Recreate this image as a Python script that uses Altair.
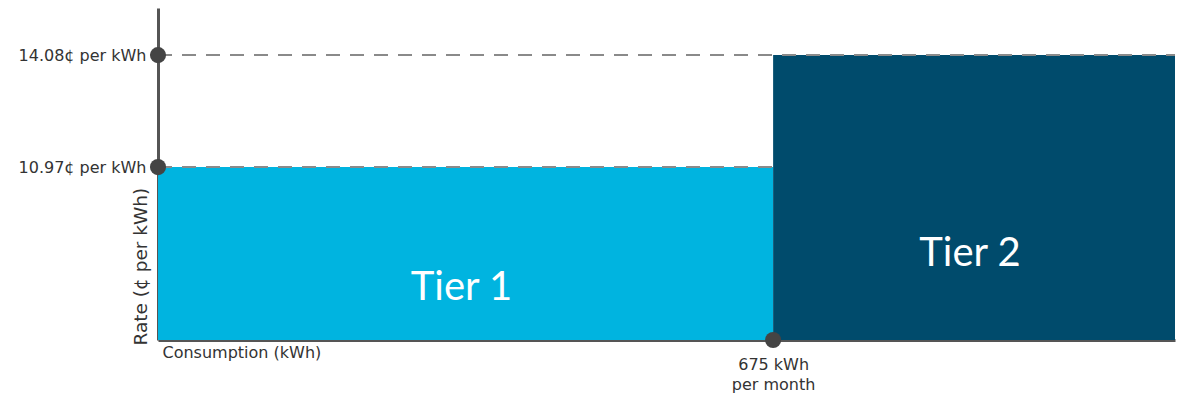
import altair as alt
import pandas as pd

# ---- data ----
tiers = ["Tier 1", "Tier 2"]
tier_start = [0, 675]
tier_end = [675, 1116]
rates = [10.97, 14.08]
threshold = [675]
x_max = 1116
y_max = 15.2

FONT = "DejaVu Sans"
BIG_FONT = "Lato"
TEXT = "#333333"
AXIS = "#555555"
colors = ["#00B4E0", "#004B6C"]

df = pd.DataFrame({
    "tier": tiers,
    "start": tier_start,
    "end": tier_end,
    "rate": rates,
    "zero": [0, 0],
})
df["label_y"] = df["rate"] * 0.55
df["label_x"] = (df["start"] + df["end"]) / 2
df["x0"] = 0

dots = pd.DataFrame({
    "x": [0, 0] + threshold,
    "y": rates + [0],
})

xs = alt.Scale(domain=[0, x_max], nice=False, zero=False)
ys = alt.Scale(type="pow", exponent=2, domain=[0, y_max], nice=False)

base = alt.Chart(df)

bars = base.mark_rect().encode(
    x=alt.X("start:Q", scale=xs,
            axis=alt.Axis(values=threshold, ticks=False, grid=False,
                          domainColor=AXIS, domainWidth=3,
                          labelExpr="['675 kWh', 'per month']",
                          labelFont=FONT, labelFontSize=16, labelColor=TEXT,
                          labelPadding=16, labelLineHeight=20,
                          title="Consumption (kWh)", titleFont=FONT,
                          titleFontSize=16, titleFontWeight="normal",
                          titleColor=TEXT, titleAnchor="start",
                          titleAlign="left", titleX=4, titleY=4,
                          titleBaseline="top")),
    x2="end:Q",
    y=alt.Y("zero:Q", scale=ys,
            axis=alt.Axis(values=rates, ticks=False, grid=False,
                          domainColor=AXIS, domainWidth=3,
                          labelExpr="format(datum.value, '.2f') + '¢ per kWh'",
                          labelFont=FONT, labelFontSize=16, labelColor=TEXT,
                          labelPadding=12,
                          title="Rate (¢ per kWh)", titleFont=FONT,
                          titleFontSize=18.5, titleFontWeight="normal",
                          titleColor=TEXT, titleAnchor="start",
                          titleX=-8, titleY=337, titleBaseline="bottom")),
    y2="rate:Q",
    color=alt.Color("tier:N", scale=alt.Scale(domain=tiers, range=colors),
                    legend=None),
)

rules = base.mark_rule(color="#8a8a8a", strokeWidth=2,
                       strokeDash=[14, 10]).encode(
    x=alt.X("x0:Q", scale=xs),
    x2="end:Q",
    y=alt.Y("rate:Q", scale=ys),
)

labels = base.mark_text(font=BIG_FONT, fontSize=40, color="white",
                        align="center", baseline="middle", dx=-4).encode(
    x=alt.X("label_x:Q", scale=xs),
    y=alt.Y("label_y:Q", scale=ys),
    text="tier:N",
)

points = alt.Chart(dots).mark_point(filled=True, size=260, opacity=1,
                                    color="#444444").encode(
    x=alt.X("x:Q", scale=xs),
    y=alt.Y("y:Q", scale=ys),
)

chart = alt.layer(bars, rules, labels, points).properties(
    width=1017, height=332,
    background="white",
    autosize=alt.AutoSizeParams(type="none"),
    padding={"left": 158, "top": 8, "right": 2, "bottom": 57},
).configure_view(stroke=None)

chart.save("out.html", embed_options={"renderer": "svg", "actions": False})
